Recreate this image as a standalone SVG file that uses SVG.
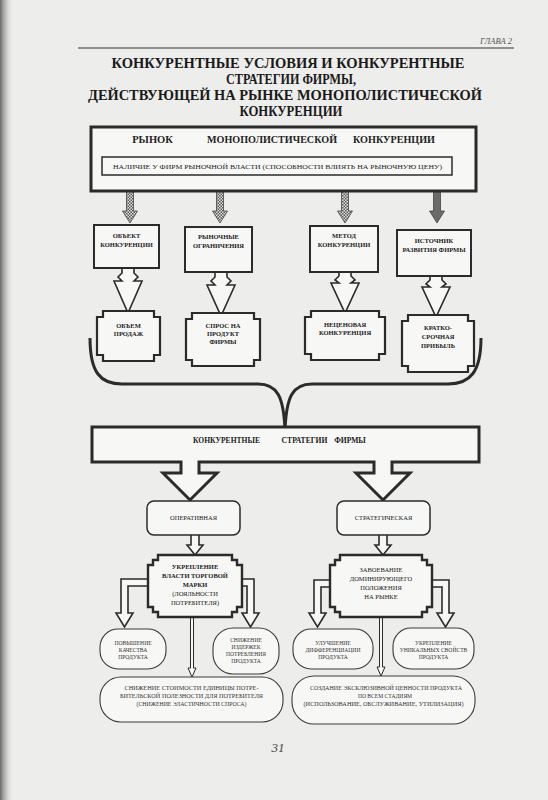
<svg xmlns="http://www.w3.org/2000/svg" width="548" height="800" viewBox="0 0 548 800">
<defs>
<linearGradient id="edge" x1="0" y1="0" x2="1" y2="0">
<stop offset="0" stop-color="#6a6a6a"/>
<stop offset="1" stop-color="#ededeb" stop-opacity="0"/>
</linearGradient>
<pattern id="hatch" width="3" height="3" patternUnits="userSpaceOnUse">
<rect width="3" height="3" fill="#e2e2e2"/>
<rect width="1.5" height="1.5" fill="#555"/>
<rect x="1.5" y="1.5" width="1.5" height="1.5" fill="#555"/>
</pattern>
<style>
.s{font-family:"Liberation Serif","DejaVu Serif",serif;fill:#222;text-anchor:middle}
.b{font-weight:bold}
.title{font-size:14px;font-weight:bold;fill:#1a1a1a}
.lbl{font-size:6.5px;font-weight:bold}
.sm{font-size:5.6px;fill:#333}
.box{fill:#f7f7f5;stroke:#2b2b2b;stroke-width:2}
.thick{fill:#f7f7f5;stroke:#2b2b2b;stroke-width:3}
.thin{fill:#f7f7f5;stroke:#3a3a3a;stroke-width:1.1}
.arr{fill:#f7f7f5;stroke:#2b2b2b;stroke-width:1.6;stroke-linejoin:miter}
.harr{fill:url(#hatch);stroke:#444;stroke-width:0.8}
</style>
</defs>
<rect width="548" height="800" fill="#ededeb"/>
<rect width="14" height="800" fill="url(#edge)"/>

<g id="header">
<text class="s" x="512" y="44" style="font-size:8.5px;font-style:italic;fill:#555;text-anchor:end">ГЛАВА 2</text>
<line x1="78" y1="48" x2="514" y2="48" stroke="#333" stroke-width="1.2"/>
</g>

<g id="title">
<text class="s title" x="288" y="68" textLength="353" lengthAdjust="spacingAndGlyphs">КОНКУРЕНТНЫЕ УСЛОВИЯ И КОНКУРЕНТНЫЕ</text>
<text class="s title" x="291" y="84" textLength="130" lengthAdjust="spacingAndGlyphs">СТРАТЕГИИ ФИРМЫ,</text>
<text class="s title" x="285" y="100" textLength="394" lengthAdjust="spacingAndGlyphs">ДЕЙСТВУЮЩЕЙ НА РЫНКЕ МОНОПОЛИСТИЧЕСКОЙ</text>
<text class="s title" x="291" y="116" textLength="103" lengthAdjust="spacingAndGlyphs">КОНКУРЕНЦИИ</text>
</g>

<g id="connectors">
<path class="harr" d="M126.5,191 V211 H122.5 L130,223 L137.5,211 H133.5 V191 Z"/>
<path class="harr" d="M216.5,191 V211 H212.5 L220,223 L227.5,211 H223.5 V191 Z"/>
<path class="harr" d="M341.5,191 V211 H337.5 L345,223 L352.5,211 H348.5 V191 Z"/>
<path d="M433.5,191 V211 H429.5 L437,223 L444.5,211 H440.5 V191 Z" fill="#6b6b6b" stroke="#444" stroke-width="0.8"/>

<path class="arr" d="M122,268 V273 L118,277 L122,281 H114 L128,313 L142,281 H134 L138,277 L134,273 V268"/>
<path class="arr" d="M215,272 V277 L211,281 L215,285 H207 L221,316 L235,285 H227 L231,281 L227,277 V272"/>
<path class="arr" d="M339,272 V276 L335,280 L339,283 H331 L345,313 L359,283 H351 L355,280 L351,276 V272"/>
<path class="arr" d="M430,276 V280 L426,284 L430,287 H422 L436,317 L450,287 H442 L446,284 L442,280 V276"/>

<path d="M90,338 C90,372 100,384 122,384 L258,384 C277,384 284,396 285,432 C286,396 293,384 312,384 L448,384 C470,384 481,372 481,338" fill="none" stroke="#2b2b2b" stroke-width="3"/>

<path class="arr" d="M191,535 V545 H187 L195,555 L203,545 H199 V535"/>
<path class="arr" d="M379,535 V545 H375 L383,555 L391,545 H387 V535"/>

<path class="arr" d="M148,579 H121 V613 H116 L124.5,627 L133,613 H128 V586 H148"/>
<path class="arr" d="M242,579 H254 V613 H259 L250.5,627 L242,613 H247 V586 H242"/>
<path class="arr" d="M330,580 H314 V613 H309 L317.5,627 L326,613 H321 V587 H330"/>
<path class="arr" d="M432,580 H449 V613 H454 L445.5,627 L437,613 H442 V587 H432"/>

<path class="arr" style="stroke-width:1" d="M190.5,617 V668 H188 L192,677 L196,668 H193.5 V617"/>
<path class="arr" style="stroke-width:1" d="M379.5,617 V667 H377 L381,676 L385,667 H382.5 V617"/>
</g>

<g id="market">
<rect class="thick" x="91" y="127" width="385" height="64"/>
<text class="s b" x="152.5" y="143" style="font-size:10.5px">РЫНОК</text>
<text class="s b" x="272" y="143" style="font-size:10.5px" textLength="130" lengthAdjust="spacingAndGlyphs">МОНОПОЛИСТИЧЕСКОЙ</text>
<text class="s b" x="394" y="143" style="font-size:10.5px" textLength="82" lengthAdjust="spacingAndGlyphs">КОНКУРЕНЦИИ</text>
</g>
<g id="power">
<rect class="box" x="102" y="157" width="350" height="18" style="stroke-width:1.5"/>
<text class="s" x="277.5" y="169" style="font-size:6.8px" textLength="329" lengthAdjust="spacingAndGlyphs">НАЛИЧИЕ У ФИРМ РЫНОЧНОЙ ВЛАСТИ (СПОСОБНОСТИ ВЛИЯТЬ НА РЫНОЧНУЮ ЦЕНУ)</text>
</g>

<g id="object">
<rect class="box" x="94" y="225" width="65" height="43"/>
<text class="s lbl" x="126.5" y="238">ОБЪЕКТ</text>
<text class="s lbl" x="126.5" y="246.5">КОНКУРЕНЦИИ</text>
</g>
<g id="limits">
<rect class="box" x="185" y="227" width="67" height="45"/>
<text class="s lbl" x="218.5" y="239">РЫНОЧНЫЕ</text>
<text class="s lbl" x="218.5" y="247.5">ОГРАНИЧЕНИЯ</text>
</g>
<g id="method">
<rect class="box" x="310" y="226" width="68" height="46"/>
<text class="s lbl" x="344" y="238">МЕТОД</text>
<text class="s lbl" x="344" y="246.5">КОНКУРЕНЦИИ</text>
</g>
<g id="source">
<rect class="box" x="397" y="230" width="74" height="46"/>
<text class="s lbl" x="434" y="243">ИСТОЧНИК</text>
<text class="s lbl" x="434" y="252">РАЗВИТИЯ ФИРМЫ</text>
</g>

<g id="volume">
<path class="box" style="stroke-width:2.2" d="M103,311 H154 V317 H160 V355 H154 V361 H103 V355 H97 V317 H103 Z"/>
<text class="s lbl" x="128.5" y="328">ОБЪЕМ</text>
<text class="s lbl" x="128.5" y="336">ПРОДАЖ</text>
</g>
<g id="demand">
<path class="box" style="stroke-width:2.2" d="M192,313 H254 V319 H260 V360 H254 V366 H192 V360 H186 V319 H192 Z"/>
<text class="s lbl" x="223" y="328">СПРОС НА</text>
<text class="s lbl" x="223" y="336">ПРОДУКТ</text>
<text class="s lbl" x="223" y="344">ФИРМЫ</text>
</g>
<g id="nonprice">
<path class="box" style="stroke-width:2.2" d="M311,311 H379 V317 H385 V354 H379 V360 H311 V354 H305 V317 H311 Z"/>
<text class="s lbl" x="345" y="327">НЕЦЕНОВАЯ</text>
<text class="s lbl" x="345" y="335">КОНКУРЕНЦИЯ</text>
</g>
<g id="profit">
<path class="box" style="stroke-width:2.2" d="M408,315 H468 V321 H474 V366 H468 V372 H408 V366 H402 V321 H408 Z"/>
<text class="s lbl" x="438" y="330">КРАТКО-</text>
<text class="s lbl" x="438" y="339">СРОЧНАЯ</text>
<text class="s lbl" x="438" y="348">ПРИБЫЛЬ</text>
</g>

<g id="strategies">
<path class="thick" d="M92,427 H479 V462 H392 V473 H410 L383,500 L356,473 H374 V462 H199 V473 H217 L190,500 L163,473 H181 V462 H92 Z"/>
<text class="s b" x="226.5" y="443" style="font-size:7.6px" textLength="67" lengthAdjust="spacingAndGlyphs">КОНКУРЕНТНЫЕ</text>
<text class="s b" x="304.5" y="443" style="font-size:7.6px">СТРАТЕГИИ</text>
<text class="s b" x="350" y="443" style="font-size:7.6px">ФИРМЫ</text>
</g>

<g id="operative">
<rect class="box" x="147" y="501" width="93" height="34" rx="7" style="stroke-width:1.5"/>
<text class="s" x="193.5" y="520" style="font-size:6.5px">ОПЕРАТИВНАЯ</text>
</g>
<g id="strategic">
<rect class="box" x="337" y="501" width="93" height="34" rx="7" style="stroke-width:1.5"/>
<text class="s" x="383.5" y="520" style="font-size:6.5px">СТРАТЕГИЧЕСКАЯ</text>
</g>

<g id="brand">
<path class="box" style="stroke-width:2.4" d="M158,555 H232 V560 H237 V565 H242 V607 H237 V612 H232 V617 H158 V612 H153 V607 H148 V565 H153 V560 H158 Z"/>
<text class="s lbl" x="195" y="569">УКРЕПЛЕНИЕ</text>
<text class="s lbl" x="195" y="578">ВЛАСТИ ТОРГОВОЙ</text>
<text class="s lbl" x="195" y="587">МАРКИ</text>
<text class="s lbl" x="195" y="596" style="font-weight:normal">(ЛОЯЛЬНОСТИ</text>
<text class="s lbl" x="195" y="605" style="font-weight:normal">ПОТРЕБИТЕЛЯ)</text>
</g>
<g id="dominance">
<path class="box" style="stroke-width:2.4" d="M340,555 H422 V560 H427 V565 H432 V607 H427 V612 H422 V617 H340 V612 H335 V607 H330 V565 H335 V560 H340 Z"/>
<text class="s lbl" x="381" y="572" style="font-weight:normal">ЗАВОЕВАНИЕ</text>
<text class="s lbl" x="381" y="581" style="font-weight:normal">ДОМИНИРУЮЩЕГО</text>
<text class="s lbl" x="381" y="590" style="font-weight:normal">ПОЛОЖЕНИЯ</text>
<text class="s lbl" x="381" y="599" style="font-weight:normal">НА РЫНКЕ</text>
</g>

<g id="quality">
<rect class="thin" x="100" y="629" width="66" height="40" rx="18"/>
<text class="s sm" x="133" y="645">ПОВЫШЕНИЕ</text>
<text class="s sm" x="133" y="652">КАЧЕСТВА</text>
<text class="s sm" x="133" y="659">ПРОДУКТА</text>
</g>
<g id="costs">
<rect class="thin" x="213" y="628" width="66" height="46" rx="20"/>
<text class="s sm" x="246" y="642">СНИЖЕНИЕ</text>
<text class="s sm" x="246" y="649">ИЗДЕРЖЕК</text>
<text class="s sm" x="246" y="656">ПОТРЕБЛЕНИЯ</text>
<text class="s sm" x="246" y="663">ПРОДУКТА</text>
</g>
<g id="differentiation">
<rect class="thin" x="293" y="629" width="80" height="40" rx="18"/>
<text class="s sm" x="333" y="645">УЛУЧШЕНИЕ</text>
<text class="s sm" x="333" y="652">ДИФФЕРЕНЦИАЦИИ</text>
<text class="s sm" x="333" y="659">ПРОДУКТА</text>
</g>
<g id="unique">
<rect class="thin" x="393" y="628" width="81" height="41" rx="18"/>
<text class="s sm" x="433.5" y="645">УКРЕПЛЕНИЕ</text>
<text class="s sm" x="433.5" y="652">УНИКАЛЬНЫХ СВОЙСТВ</text>
<text class="s sm" x="433.5" y="659">ПРОДУКТА</text>
</g>
<g id="unitcost">
<rect class="thin" x="100" y="677" width="183" height="45" rx="21"/>
<text class="s sm" x="191.5" y="690" textLength="134" lengthAdjust="spacingAndGlyphs">СНИЖЕНИЕ СТОИМОСТИ ЕДИНИЦЫ ПОТРЕ-</text>
<text class="s sm" x="191.5" y="698" textLength="143" lengthAdjust="spacingAndGlyphs">БИТЕЛЬСКОЙ ПОЛЕЗНОСТИ ДЛЯ ПОТРЕБИТЕЛЯ</text>
<text class="s sm" x="191.5" y="706" textLength="110" lengthAdjust="spacingAndGlyphs">(СНИЖЕНИЕ ЭЛАСТИЧНОСТИ СПРОСА)</text>
</g>
<g id="exclusive">
<rect class="thin" x="292" y="676" width="183" height="48" rx="22"/>
<text class="s sm" x="386" y="690" textLength="152" lengthAdjust="spacingAndGlyphs">СОЗДАНИЕ ЭКСКЛЮЗИВНОЙ ЦЕННОСТИ ПРОДУКТА</text>
<text class="s sm" x="385" y="698">ПО ВСЕМ СТАДИЯМ</text>
<text class="s sm" x="383.5" y="706" textLength="160" lengthAdjust="spacingAndGlyphs">(ИСПОЛЬЗОВАНИЕ, ОБСЛУЖИВАНИЕ, УТИЛИЗАЦИЯ)</text>
</g>

<g id="page">
<text class="s" x="278" y="752" style="font-size:13px;font-style:italic;fill:#444">31</text>
</g>
</svg>
